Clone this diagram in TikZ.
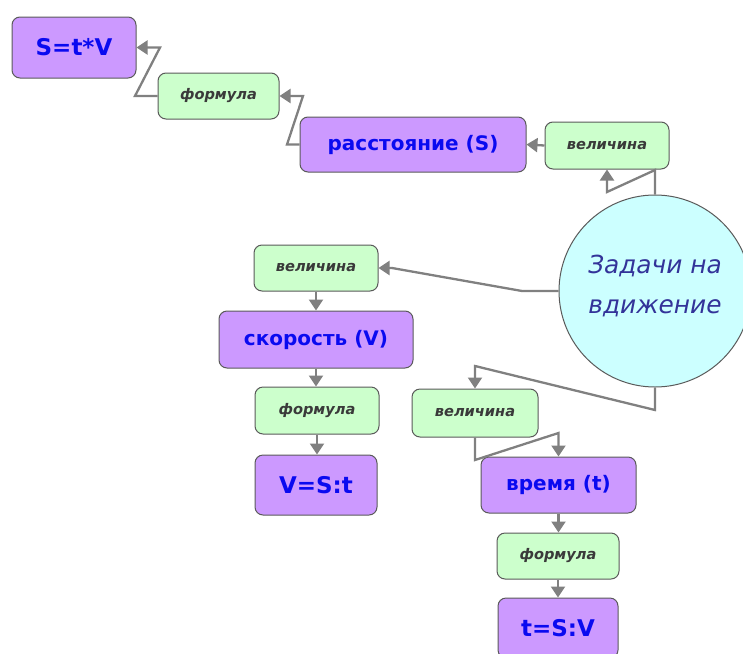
\documentclass[tikz,border=0pt]{standalone}
\usepackage{fontspec}
\setmainfont{DejaVu Sans}
\usetikzlibrary{arrows.meta}
\definecolor{pur}{HTML}{CC99FF}
\definecolor{grn}{HTML}{CCFFCC}
\definecolor{cyn}{HTML}{CCFFFF}
\definecolor{lin}{HTML}{808080}
\definecolor{bord}{HTML}{5A5A5A}
\definecolor{ctx}{HTML}{333399}
\definecolor{gtx}{HTML}{3A3A3A}
\definecolor{btx}{HTML}{0A0AF0}
\begin{document}
\begin{tikzpicture}[x=1pt,y=-1pt,
 pbox/.style={draw=bord, line width=1pt, fill=pur, rounded corners=8pt, inner sep=0pt, text=btx, font=\bfseries\fontsize{20}{24}\selectfont},
 pbig/.style={pbox, font=\bfseries\fontsize{23}{26}\selectfont},
 gbox/.style={draw=bord, line width=1pt, fill=grn, rounded corners=8pt, inner sep=0pt, text=gtx, font=\bfseries\itshape\fontsize{14.6}{16}\selectfont},
 conn/.style={draw=lin, line width=2.3pt, -{Triangle[width=14pt,length=11pt,fill=lin]}, line join=miter},
 ]
\useasboundingbox (0,0) rectangle (743,653);
\clip (0,0) rectangle (743,653);
% circle
\node[circle, draw=bord, line width=1pt, fill=cyn, minimum size=192pt, inner sep=0pt] (c) at (655,291) {};
\node[text=ctx, font=\itshape\fontsize{24.8}{40}\selectfont, align=center, inner sep=0pt] (ctxt) at (655,286) {Задачи на\\вдижение};
% top branch
\node[pbig, minimum width=124pt, minimum height=61pt] (stv) at (74,47.5) {S=t*V};
\node[gbox, minimum width=121pt, minimum height=46pt] (f1) at (218.5,96) {формула};
\node[pbox, minimum width=226pt, minimum height=55pt] (rs) at (413,144.5) {расстояние (S)};
\node[gbox, minimum width=124pt, minimum height=47pt] (v1) at (607,145.5) {величина};
% left branch
\node[gbox, minimum width=124pt, minimum height=46pt] (v2) at (316,268) {величина};
\node[pbox, minimum width=194pt, minimum height=57pt] (sk) at (316,339.5) {скорость (V)};
\node[gbox, minimum width=124pt, minimum height=47pt] (f2) at (317,410.5) {формула};
\node[pbig, minimum width=122pt, minimum height=60pt] (vst) at (316,485) {V=S:t};
% bottom branch
\node[gbox, minimum width=126pt, minimum height=48pt] (v3) at (475,413) {величина};
\node[pbox, minimum width=155pt, minimum height=56pt] (vr) at (558.5,485) {время (t)};
\node[gbox, minimum width=122pt, minimum height=46pt] (f3) at (558,556) {формула};
\node[pbig, minimum width=120pt, minimum height=60pt] (tsv) at (558,628) {t=S:V};
% connectors
\draw[conn] (c.north) -- (655,170) -- (607,192) -- (v1.south);
\draw[conn] (v1.west) -- (rs.east);
\draw[conn] (rs.west) -- (287,144.5) -- (303,96) -- (f1.east);
\draw[conn] (f1.west) -- (135,96) -- (160,47.5) -- (stv.east);
\draw[conn] (c.west) -- (522,291) -- (392,268) -- (v2.east);
\draw[conn] (v2.south) -- (sk.north);
\draw[conn] (sk.south) -- (sk.south |- f2.north);
\draw[conn] (f2.south) -- (f2.south |- vst.north);
\draw[conn] (c.south) -- (655,410) -- (475,366) -- (v3.north);
\draw[conn] (v3.south) -- (475,460) -- (558.5,433) -- (vr.north);
\draw[conn] (vr.south) -- (vr.south |- f3.north);
\draw[conn] (f3.south) -- (f3.south |- tsv.north);
\end{tikzpicture}
\end{document}
